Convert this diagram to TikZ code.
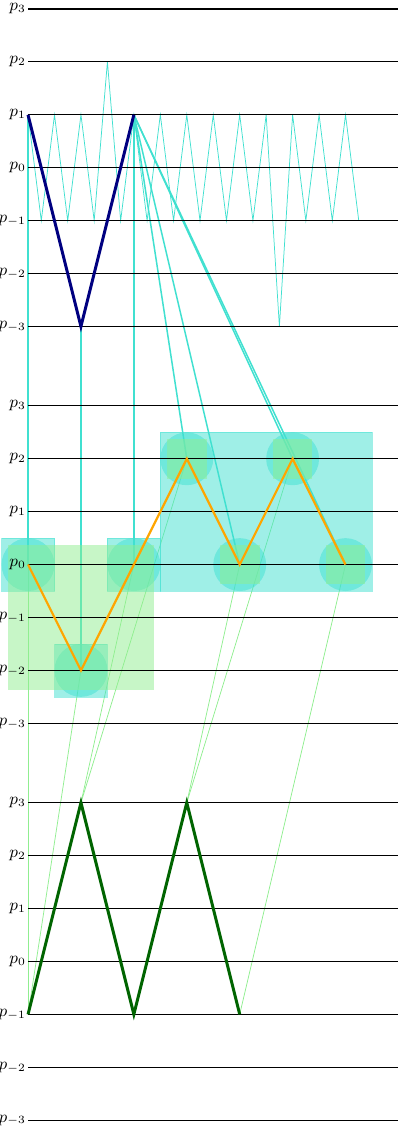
\documentclass[tikz,border=0pt]{standalone}
\usepackage{xcolor}
\usepackage{tikz}
\usetikzlibrary{positioning}
\definecolor{Turq}{RGB}{64,224,208}
\definecolor{PaleGreen}{RGB}{144,238,144}
\definecolor{DeepNavy}{RGB}{0,0,128}
\definecolor{DeepGreen}{RGB}{0,100,0}
\definecolor{Amber}{RGB}{255,165,0}

\begin{document}
\begin{tikzpicture}[
    level/.style={semithick},
    lab/.style={anchor=east, inner sep=1pt, font=\small},
    fine/.style={Turq, thin},
    link/.style={Turq, thick},
    down/.style={PaleGreen, thin},
    coarse/.style={DeepNavy, ultra thick},
    mid/.style={Amber, very thick},
    low/.style={DeepGreen, ultra thick},
    cyanbox/.style={draw=Turq, fill=Turq, opacity=0.5, inner sep=0pt},
    greenbox/.style={fill=PaleGreen, opacity=0.5, inner sep=0pt},
    blob/.style={circle, fill=Turq, opacity=0.5, inner sep=0pt, minimum size=1cm}
]
    \useasboundingbox (-0.53,-18.11) rectangle (7,3.17);

    \foreach \y [count=\j from 0] in {1,-1,1,-1,1,-1,2,-1,1,-1,1,-1,1,-1,1,-1,1,-1,1,-3,1,-1,1,-1,1,-1}
        \coordinate (f\j) at (0.25*\j,\y);
    \coordinate (A0) at (0,1);
    \coordinate (A1) at (1,-3);
    \coordinate (A2) at (2,1);
    \foreach \x/\y [count=\i from 0] in {0/-7.5,1/-9.5,2/-7.5,3/-5.5,4/-7.5,5/-5.5,6/-7.5}
        \coordinate (B\i) at (\x,\y);
    \foreach \x/\y [count=\i from 0] in {0/-16,1/-12,2/-16,3/-12,4/-16}
        \coordinate (C\i) at (\x,\y);

    \draw[fine] (f0) \foreach \j in {1,...,25} {-- (f\j)};
    \foreach \i in {0,1,2}
        \draw[link] (A\i) -- (B\i);
    \foreach \i in {3,...,6}
        \draw[link] (A2) -- (B\i);
    \foreach \i/\k in {0/0,1/0,2/1,3/1,4/3,5/3,6/4}
        \draw[down] (B\i) -- (C\k);

    \node[cyanbox, minimum width=4cm, minimum height=3cm] (rightbox) at (4.5,-6.5) {};
    \foreach \i in {0,1,2}
        \node[cyanbox, minimum size=1cm] (sq\i) at (B\i) {};
    \foreach \i in {0,...,6}
        \node[blob] (ball\i) at (B\i) {};
    \node[greenbox, minimum width=2.75cm, minimum height=2.75cm] (leftbox) at (1,-8.5) {};
    \foreach \i in {3,...,6}
        \node[greenbox, minimum size=0.75cm] (gsq\i) at (B\i) {};

    \foreach \off/\g in {0/t,-7.5/m,-15/b}
        \foreach \k [count=\i] in {-3,...,3} {
            \node[lab] (\g\i) at (0,\k+\off) {$p_{\k}$};
            \coordinate (\g e\i) at (7,\k+\off);
            \draw[level] (\g\i.east) -- (\g e\i);
        }

    \draw[coarse] (A0) -- (A1) -- (A2);
    \draw[mid] (B0) \foreach \i in {1,...,6} {-- (B\i)};
    \draw[low] (C0) \foreach \i in {1,...,4} {-- (C\i)};
\end{tikzpicture}
\end{document}
